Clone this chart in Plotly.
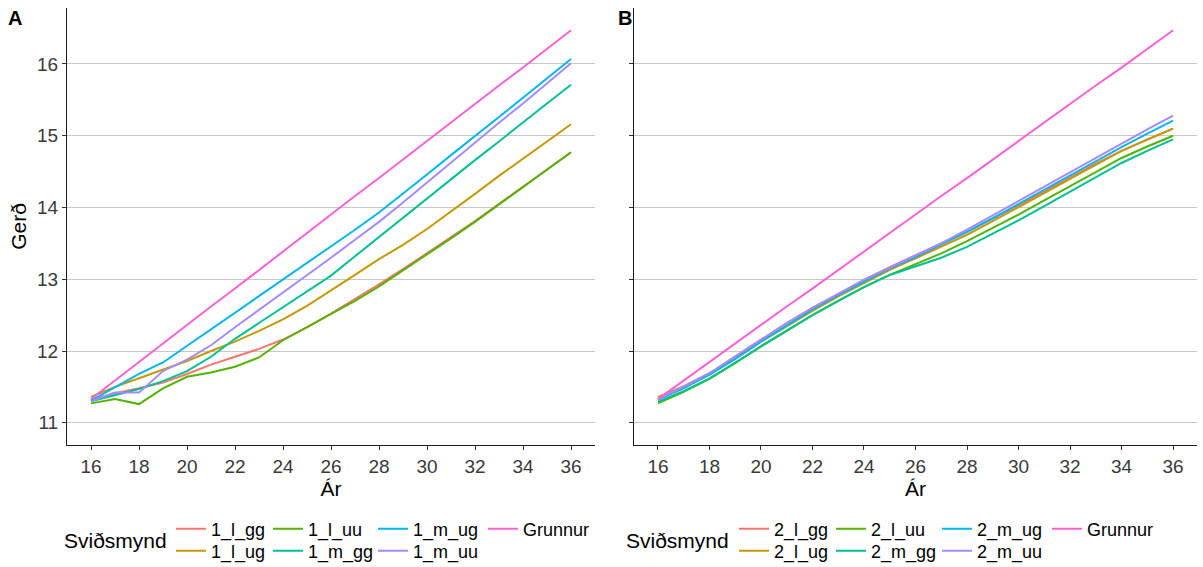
import plotly.graph_objects as go

years = list(range(16, 37))

# Panel A (scenario set 1)
a_names = ["1_l_gg", "1_l_ug", "1_l_uu", "1_m_gg", "1_m_ug", "1_m_uu", "Grunnur"]
a_1_l_gg = [11.32, 11.41, 11.48, 11.56, 11.68, 11.81, 11.92, 12.03, 12.16, 12.33, 12.52, 12.72, 12.93, 13.14, 13.36, 13.58, 13.81, 14.05, 14.29, 14.53, 14.77]
a_1_l_ug = [11.36, 11.50, 11.62, 11.74, 11.86, 12.00, 12.13, 12.28, 12.44, 12.63, 12.84, 13.06, 13.28, 13.48, 13.70, 13.94, 14.19, 14.44, 14.68, 14.92, 15.16]
a_1_l_uu = [11.27, 11.33, 11.26, 11.48, 11.64, 11.70, 11.78, 11.91, 12.15, 12.33, 12.51, 12.70, 12.90, 13.12, 13.34, 13.57, 13.80, 14.04, 14.28, 14.52, 14.77]
a_1_m_gg = [11.30, 11.38, 11.47, 11.58, 11.72, 11.92, 12.17, 12.39, 12.61, 12.83, 13.05, 13.32, 13.59, 13.86, 14.12, 14.39, 14.66, 14.92, 15.19, 15.45, 15.71]
a_1_m_ug = [11.31, 11.50, 11.68, 11.84, 12.07, 12.30, 12.53, 12.76, 12.99, 13.22, 13.45, 13.69, 13.93, 14.19, 14.46, 14.73, 14.99, 15.26, 15.53, 15.80, 16.07]
a_1_m_uu = [11.30, 11.42, 11.42, 11.72, 11.88, 12.08, 12.33, 12.57, 12.81, 13.05, 13.30, 13.55, 13.80, 14.07, 14.35, 14.62, 14.90, 15.18, 15.45, 15.73, 16.01]
grunnur = [11.33, 11.59, 11.85, 12.10, 12.36, 12.62, 12.87, 13.13, 13.39, 13.64, 13.90, 14.16, 14.41, 14.67, 14.93, 15.18, 15.44, 15.70, 15.95, 16.21, 16.47]

# Panel B (scenario set 2)
b_names = ["2_l_gg", "2_l_ug", "2_l_uu", "2_m_gg", "2_m_ug", "2_m_uu", "Grunnur"]
b_2_l_gg = [11.36, 11.51, 11.69, 11.92, 12.16, 12.39, 12.60, 12.80, 12.99, 13.17, 13.34, 13.50, 13.66, 13.84, 14.03, 14.22, 14.42, 14.61, 14.79, 14.95, 15.10]
b_2_l_ug = [11.35, 11.50, 11.67, 11.89, 12.13, 12.35, 12.56, 12.76, 12.95, 13.13, 13.29, 13.45, 13.62, 13.81, 14.00, 14.20, 14.40, 14.60, 14.79, 14.95, 15.10]
b_2_l_uu = [11.27, 11.43, 11.61, 11.83, 12.07, 12.29, 12.50, 12.70, 12.89, 13.06, 13.21, 13.36, 13.53, 13.71, 13.90, 14.10, 14.30, 14.50, 14.69, 14.85, 15.00]
b_2_m_gg = [11.29, 11.44, 11.62, 11.84, 12.07, 12.29, 12.50, 12.70, 12.89, 13.06, 13.18, 13.30, 13.45, 13.63, 13.82, 14.02, 14.22, 14.42, 14.62, 14.79, 14.95]
b_2_m_ug = [11.32, 11.48, 11.67, 11.89, 12.13, 12.36, 12.58, 12.78, 12.97, 13.15, 13.31, 13.48, 13.66, 13.85, 14.05, 14.25, 14.45, 14.65, 14.84, 15.03, 15.21]
b_2_m_uu = [11.33, 11.50, 11.69, 11.92, 12.16, 12.39, 12.60, 12.80, 12.99, 13.16, 13.33, 13.50, 13.69, 13.89, 14.10, 14.30, 14.50, 14.70, 14.90, 15.09, 15.28]

x_ticks = [16, 18, 20, 22, 24, 26, 28, 30, 32, 34, 36]
y_ticks = [11, 12, 13, 14, 15, 16]

colors = ["#F8766D", "#C49A00", "#53B400", "#00C094", "#00B6EB", "#A58AFF", "#FB61D7"]

a_series = [a_1_l_gg, a_1_l_ug, a_1_l_uu, a_1_m_gg, a_1_m_ug, a_1_m_uu, grunnur]
b_series = [b_2_l_gg, b_2_l_ug, b_2_l_uu, b_2_m_gg, b_2_m_ug, b_2_m_uu, grunnur]

W, H = 1203, 567
FONT = "Liberation Sans, Arial, sans-serif"

# legend grid (column-major like ggplot): column index and row index of each series
col_of = [0, 0, 1, 1, 2, 2, 3]
row_of = [0, 1, 0, 1, 0, 1, 0]
a_col_px = [171, 268, 373, 483]
b_col_px = [734, 831, 937, 1047]
row_px = [529, 551]

fig = go.Figure()
layout_legends = {}
leg_font = dict(family=FONT, size=18, color="black")
lid = 0
for names, series, xa, ya, cols in [
    (a_names, a_series, "x", "y", a_col_px),
    (b_names, b_series, "x2", "y2", b_col_px),
]:
    for i, (nm, ys) in enumerate(zip(names, series)):
        lid += 1
        key = "legend" if lid == 1 else f"legend{lid}"
        fig.add_trace(go.Scatter(
            x=years, y=ys, mode="lines", name=nm,
            line=dict(color=colors[i], width=2),
            xaxis=xa, yaxis=ya, legend=key,
        ))
        layout_legends[key] = dict(
            x=cols[col_of[i]] / W, xanchor="left",
            y=1 - row_px[row_of[i]] / H, yanchor="middle",
            orientation="v", font=leg_font, bgcolor="rgba(0,0,0,0)",
            itemclick=False, itemdoubleclick=False,
        )

ydom = [1 - 445 / H, 1 - 8 / H]
axis_common = dict(
    showline=True, linecolor="#1a1a1a", linewidth=1,
    ticks="outside", ticklen=4, tickcolor="#333333", tickwidth=1,
    tickfont=dict(family=FONT, size=19, color="#3a3a3a"),
    zeroline=False, mirror=False,
)
title_font = dict(family=FONT, size=21, color="black")

layout = dict(
    width=W, height=H, autosize=False,
    margin=dict(l=0, r=0, t=0, b=0, autoexpand=False),
    paper_bgcolor="white", plot_bgcolor="white",
    font=dict(family=FONT, color="black"),
    xaxis=dict(domain=[67 / W, 595 / W], range=[15, 37], tickvals=x_ticks,
               showgrid=False, anchor="y",
               title=dict(text="Ár", font=title_font, standoff=2), **axis_common),
    yaxis=dict(domain=ydom, range=[10.69, 16.78], tickvals=y_ticks,
               showgrid=True, gridcolor="#c8c8c8", gridwidth=1, anchor="x",
               title=dict(text="Gerð", font=title_font, standoff=4), **axis_common),
    xaxis2=dict(domain=[634 / W, 1197 / W], range=[15.07, 36.93], tickvals=x_ticks,
                showgrid=False, anchor="y2",
                title=dict(text="Ár", font=title_font, standoff=2), **axis_common),
    yaxis2=dict(domain=ydom, range=[10.69, 16.78], tickvals=y_ticks,
                showgrid=True, gridcolor="#c8c8c8", gridwidth=1, anchor="x2",
                showticklabels=False, **axis_common),
    showlegend=True,
)
layout.update(layout_legends)
fig.update_layout(**layout)

annotations = [
    dict(text="<b>A</b>", x=6 / W, y=1 - 18 / H, xref="paper", yref="paper",
         xanchor="left", yanchor="middle", showarrow=False,
         font=dict(family=FONT, size=20, color="black")),
    dict(text="<b>B</b>", x=616 / W, y=1 - 18 / H, xref="paper", yref="paper",
         xanchor="left", yanchor="middle", showarrow=False,
         font=dict(family=FONT, size=20, color="black")),
    dict(text="Sviðsmynd", x=169 / W, y=1 - 540 / H, xref="paper", yref="paper",
         xanchor="right", yanchor="middle", showarrow=False, font=title_font),
    dict(text="Sviðsmynd", x=731 / W, y=1 - 540 / H, xref="paper", yref="paper",
         xanchor="right", yanchor="middle", showarrow=False, font=title_font),
]
fig.update_layout(annotations=annotations)

fig.write_html("out.html", config={"displayModeBar": False},
               post_script="document.body.style.margin='0';")
